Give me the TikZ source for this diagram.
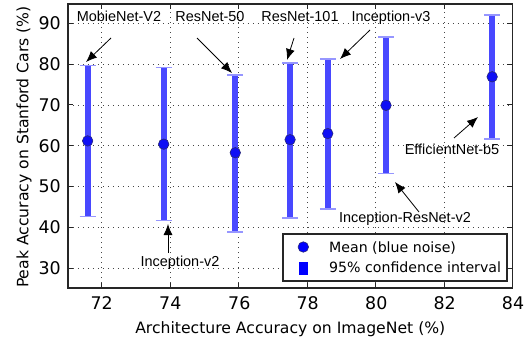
\documentclass[tikz,border=0pt]{standalone}
\usepackage{fontspec}
\newfontfamily\dvsans{DejaVu Sans}
\newfontfamily\arialsans{Liberation Sans}
\usetikzlibrary{arrows.meta}
\definecolor{barblue}{RGB}{72,72,255}
\definecolor{capblue}{RGB}{150,150,255}
\definecolor{dotblue}{RGB}{15,15,245}
\definecolor{dotedge}{RGB}{40,40,120}
\definecolor{gridgray}{RGB}{70,70,70}
\definecolor{legblue}{RGB}{0,0,255}

\begin{document}
\begin{tikzpicture}[x=1bp,y=1bp,
  gridline/.style={gridgray, line width=0.9bp, dash pattern=on 1bp off 4bp},
  ticklab/.style={font=\dvsans\fontsize{17.5}{20}\selectfont, inner sep=0pt},
  axlab/.style={font=\dvsans\fontsize{15.7}{18}\selectfont, inner sep=0pt, anchor=base},
  leglab/.style={font=\dvsans\fontsize{14.2}{17}\selectfont, inner sep=0pt, anchor=base west},
  annot/.style={font=\arialsans\fontsize{14.5}{17}\selectfont, inner sep=0pt, anchor=base},
  pointer/.style={-{Latex[length=11bp,width=9bp]}, line width=0.8bp, black},
  cibar/.style={barblue, line width=6bp},
  cicap/.style={capblue, line width=1.5bp},
  meanmark/.style={circle, fill=dotblue, draw=dotedge, line width=0.6bp, minimum size=10.5bp, inner sep=0pt},
  tickmark/.style={line width=1bp, black!85},
  framebox/.style={line width=1.5bp, draw=black!85}
]
\useasboundingbox (0,0) rectangle (527,345);

% ---- data area: x = ImageNet accuracy, y = Stanford Cars accuracy ----
\begin{scope}[x=34.25bp, y=4.083bp, shift={(-2364.3bp,-45.77bp)}]
  \coordinate (fsw) at (71.01,25.17);
  \coordinate (fne) at (84,94.73);
  % grid
  \foreach \X in {72,74,...,82}
    \draw[gridline] (\X,25.17) -- (\X,94.73);
  \foreach \Y in {30,40,...,90}
    \draw[gridline] (71.01,\Y) -- (84,\Y);
  % confidence intervals and means
  \foreach \i/\X/\M/\L/\U in {1/71.59/61.2/42.7/79.7,
                               2/73.81/60.4/41.7/79.2,
                               3/75.9/58.3/38.9/77.3,
                               4/77.5/61.5/42.3/80.3,
                               5/78.6/63.0/44.5/81.3,
                               6/80.3/69.9/53.2/86.7,
                               7/83.4/76.9/61.7/92.0} {
    \coordinate (top\i) at (\X,\U);
    \coordinate (bot\i) at (\X,\L);
    \draw[cibar] (bot\i) -- (top\i);
    \draw[cicap] ([xshift=-8bp]top\i) -- ([xshift=8bp]top\i);
    \draw[cicap] ([xshift=-8bp]bot\i) -- ([xshift=8bp]bot\i);
    \node[meanmark] (mean\i) at (\X,\M) {};
  }
  % frame and ticks
  \draw[framebox] (fsw) rectangle (fne);
  \foreach \X in {72,74,...,82} {
    \draw[tickmark] (\X,25.17) -- ++(0,5.5bp);
    \draw[tickmark] (\X,94.73) -- ++(0,-5.5bp);
  }
  \foreach \Y in {30,40,...,90} {
    \draw[tickmark] (71.01,\Y) -- ++(5.5bp,0);
    \draw[tickmark] (84,\Y) -- ++(-5.5bp,0);
  }
\end{scope}

% tick labels
\foreach \X/\px in {72/101.7,74/170.3,76/239.3,78/307.7,80/376.3,82/444.7,84/513}
  \node[ticklab, anchor=base] (xl\X) at (\px,35.7) {\X};
\foreach \Y/\py in {30/76.7,40/117.7,50/159,60/199,70/240,80/280.7,90/321.7}
  \node[ticklab, anchor=base east] (yl\Y) at (61,\py-6.3) {\Y};

% axis titles
\node[axlab] (xtitle) at (290.3,11.7) {Architecture Accuracy on ImageNet (\%)};
\node[axlab, rotate=90] (ytitle) at (28.3,198) {Peak Accuracy on Stanford Cars (\%)};

% model labels with pointers
\node[annot] (lmob) at (119,323.3) {MobieNet-V2};
\coordinate (amob1) at (111,307); \coordinate (amob2) at (86,283);
\draw[pointer] (amob1) -- (amob2);

\node[annot] (lr50) at (210,323.3) {ResNet-50};
\coordinate (ar501) at (197,307); \coordinate (ar502) at (232,272);
\draw[pointer] (ar501) -- (ar502);

\node[annot] (lr101) at (300,323.3) {ResNet-101};
\coordinate (ar1011) at (294,307); \coordinate (ar1012) at (287,285);
\draw[pointer] (ar1011) -- (ar1012);

\node[annot] (linc3) at (391,323.3) {Inception-v3};
\coordinate (ainc31) at (370,315); \coordinate (ainc32) at (340,286);
\draw[pointer] (ainc31) -- (ainc32);

\node[annot] (leff) at (452,191) {EfficientNet-b5};
\coordinate (aeff1) at (454,207); \coordinate (aeff2) at (478,228);
\draw[pointer] (aeff1) -- (aeff2);

\node[annot] (lirn) at (405,122.3) {Inception-ResNet-v2};
\coordinate (airn1) at (419,133); \coordinate (airn2) at (395,163);
\draw[pointer] (airn1) -- (airn2);

\node[annot] (linc2) at (180,78.3) {Inception-v2};
\coordinate (ainc21) at (168,92); \coordinate (ainc22) at (168,121);
\draw[pointer] (ainc21) -- (ainc22);

% legend
\draw[fill=white, draw=black!85, line width=1.3bp] (283,64) rectangle (507,111);
\node[meanmark, fill=legblue] (legdot) at (303.3,98) {};
\node[fill=legblue, minimum width=9bp, minimum height=13bp, inner sep=0pt] (legbar) at (303.3,76.7) {};
\node[leglab] (legt1) at (329,92.7) {Mean (blue noise)};
\node[leglab] (legt2) at (329,72.7) {95\% confidence interval};
\end{tikzpicture}
\end{document}
